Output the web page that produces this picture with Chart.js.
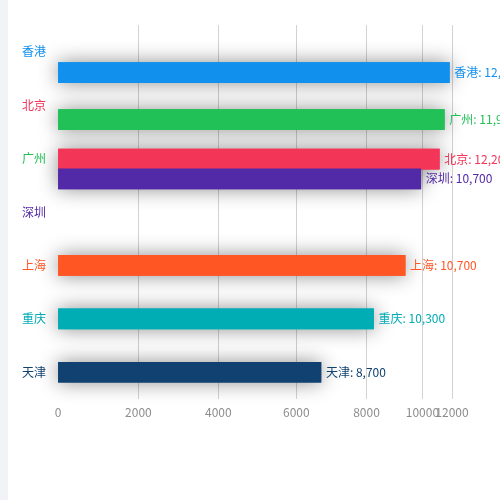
<!DOCTYPE html>
<html>
<head>
<meta charset="utf-8">
<script src="https://cdn.jsdelivr.net/npm/chart.js@4/dist/chart.umd.min.js"></script>
<style>
  html, body { margin: 0; padding: 0; background: #f2f3f7; }
  #card { position: absolute; left: 8px; top: 0; width: 492px; height: 500px; background: #fff; }
</style>
</head>
<body>
<div id="card"><canvas id="chart"></canvas></div>
<script>
/* ── data ─────────────────────────────────────────────────────────────── */
const cities      = ['香港', '北京', '广州', '深圳', '上海', '重庆', '天津'];   // y-axis order
const cityColors  = {
  '香港': '#1290ee', '北京': '#f33558', '广州': '#22c157', '深圳': '#5229a7',
  '上海': '#ff5624', '重庆': '#00adb5', '天津': '#104170',
};
// bars as caught mid-animation: drawn value, current rank and the label value
const barCities   = ['香港', '广州', '北京', '深圳', '上海', '重庆', '天津'];
const barValues   = [11820, 11480, 11140, 9940, 9380, 8250, 6700];
const barRanks    = [0.39, 1.27, 2.01, 2.38, 4, 5, 6];
const labelValues = [12600, 11900, 12200, 10700, 10700, 10300, 8700];
const xTicks      = [0, 2000, 4000, 6000, 8000, 10000, 12000];

/* ── x scale whose tick spacing is uneven (axis was animating) ────────── */
const X_STOPS = [0, 0.204, 0.407, 0.605, 0.783, 0.925, 1];

class StretchedScale extends Chart.LinearScale {
  getPixelForValue(value) {
    if (value === null || value === undefined) return NaN;
    const step = (this.max - this.min) / (X_STOPS.length - 1);
    const pos  = (value - this.min) / step;
    const i    = Math.max(0, Math.min(X_STOPS.length - 2, Math.floor(pos)));
    const t    = pos - i;
    return this.getPixelForDecimal(X_STOPS[i] + (X_STOPS[i + 1] - X_STOPS[i]) * t);
  }
  getValueForPixel(pixel) {
    const d    = this.getDecimalForPixel(pixel);
    const step = (this.max - this.min) / (X_STOPS.length - 1);
    let i = 0;
    while (i < X_STOPS.length - 2 && d > X_STOPS[i + 1]) i++;
    const t = (d - X_STOPS[i]) / (X_STOPS[i + 1] - X_STOPS[i]);
    return this.min + (i + t) * step;
  }
}
StretchedScale.id = 'stretched';
StretchedScale.defaults = Chart.LinearScale.defaults;
Chart.register(StretchedScale);

/* ── plugins ─────────────────────────────────────────────────────────── */
// shadows go under every bar: draw with shadow, then draw the bars again flat
const barShadow = {
  id: 'barShadow',
  beforeDatasetDraw(chart) {
    const ctx = chart.ctx;
    ctx.save();
    ctx.shadowColor = 'rgba(0,0,0,0.45)';
    ctx.shadowBlur  = 20;
  },
  afterDatasetDraw(chart, args) {
    const ctx = chart.ctx;
    ctx.restore();
    args.meta.data.forEach(el => el.draw(ctx, chart.chartArea));
  },
};

const endLabels = {
  id: 'endLabels',
  afterDatasetsDraw(chart) {
    const ctx = chart.ctx;
    const meta = chart.getDatasetMeta(0);
    ctx.save();
    ctx.font = '12px "Noto Sans CJK SC", sans-serif';
    ctx.textAlign = 'left';
    ctx.textBaseline = 'middle';
    meta.data.forEach((bar, i) => {
      ctx.fillStyle = cityColors[barCities[i]];
      ctx.fillText(`${barCities[i]}: ${labelValues[i].toLocaleString('en-US')}`, bar.x + 5, bar.y);
    });
    ctx.restore();
  },
};

Chart.defaults.font.family = '"Noto Sans CJK SC", sans-serif';

new Chart(document.getElementById('chart'), {
  type: 'bar',
  data: {
    datasets: [{
      data: barValues.map((v, i) => ({ x: v, y: barRanks[i] })),
      backgroundColor: barCities.map(c => cityColors[c]),
      barThickness: 20,
      borderWidth: 0,
      clip: false,
    }],
  },
  options: {
    indexAxis: 'y',
    responsive: true,
    maintainAspectRatio: false,
    animation: false,
    layout: { padding: { top: 25, right: 48, bottom: 0, left: 0 } },
    plugins: { legend: { display: false }, tooltip: { enabled: false } },
    scales: {
      x: {
        type: 'stretched',
        position: 'bottom',
        min: 0, max: 12000,
        afterBuildTicks: s => { s.ticks = xTicks.map(v => ({ value: v })); },
        afterFit: s => { s.height = 101; },
        border: { display: false },
        grid: { drawTicks: false, color: c => (c.tick && c.tick.value === 0 ? 'rgba(0,0,0,0)' : '#d2d2d2') },
        ticks: {
          autoSkip: false, maxRotation: 0, minRotation: 0, padding: 6,
          color: '#8c8c8c', font: { size: 12 },
          callback: v => String(v),
        },
      },
      y: {
        type: 'linear',
        reverse: true,
        offset: false,
        min: -0.5, max: 6.5,
        afterBuildTicks: s => { s.ticks = cities.map((c, i) => ({ value: i })); },
        afterFit: s => { s.width = 50; },
        border: { display: false },
        grid: { display: false, drawTicks: false, offset: false },
        ticks: {
          padding: 12,
          font: { size: 12 },
          color: c => cityColors[cities[c.tick.value]],
          callback: v => cities[v],
        },
      },
    },
  },
  plugins: [barShadow, endLabels],
});
</script>
</body>
</html>
